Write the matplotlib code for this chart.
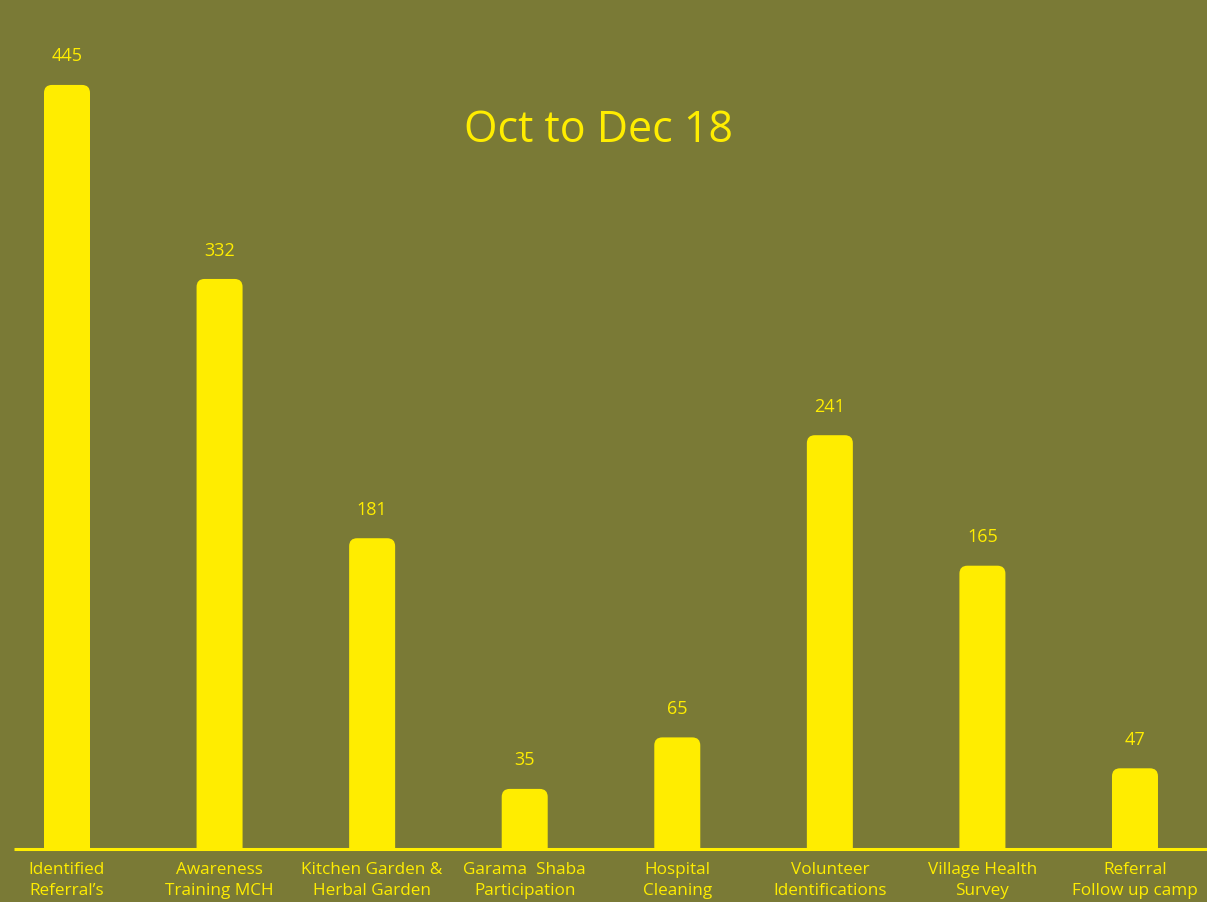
import matplotlib
matplotlib.use("Agg")
import matplotlib.pyplot as plt
from matplotlib.patches import FancyBboxPatch

# data
categories = [
    "Identified\nReferral\u2019s",
    "Awareness\nTraining MCH",
    "Kitchen Garden &\nHerbal Garden",
    "Garama  Shaba\nParticipation",
    "Hospital\nCleaning",
    "Volunteer\nIdentifications",
    "Village Health\nSurvey",
    "Referral\nFollow up camp",
]
values = [445, 332, 181, 35, 65, 241, 165, 47]
title = "Oct to Dec 18"

bg = "#7a7a36"
yellow = "#ffed00"
plt.rcParams["font.family"] = ["Open Sans", "DejaVu Sans"]

W, H = 1207, 902
fig = plt.figure(figsize=(W / 100, H / 100), dpi=100, facecolor=bg)
base_px = 53
ax = fig.add_axes([0, base_px / H, 1, (H - base_px) / H])
ax.set_facecolor(bg)

px_per_x = 152.57
px_per_y = 1.717
ax.set_xlim(-67 / px_per_x, (W - 67) / px_per_x)
ax.set_ylim(0, (H - base_px) / px_per_y)

bar_w = 46 / px_per_x
r = 8 / px_per_x
aspect = (8 / px_per_y) / r
for i, v in enumerate(values):
    p = FancyBboxPatch((i - bar_w / 2, -20), bar_w, v + 20,
                       boxstyle=f"round,pad=0,rounding_size={r}",
                       mutation_aspect=aspect, fc=yellow, ec="none")
    ax.add_patch(p)
    ax.annotate(str(v), (i, v), xytext=(0, 14), textcoords="offset points",
                ha="center", va="bottom", color=yellow, fontsize=13)

# baseline
ax.plot([14 / px_per_x - 67 / px_per_x, 8], [0, 0], color=yellow, lw=2.2,
        clip_on=False, solid_capstyle="butt")

ax.set_xticks(range(len(categories)))
ax.set_xticklabels(categories, color=yellow, fontsize=12.3, linespacing=1.42)
ax.tick_params(axis="x", length=0, pad=9.5)
ax.set_yticks([])
for s in ax.spines.values():
    s.set_visible(False)

fig.text(0.496, 0.855, title, ha="center", va="center", color=yellow, fontsize=31)

fig.savefig("out.png", dpi=100, facecolor=bg)
